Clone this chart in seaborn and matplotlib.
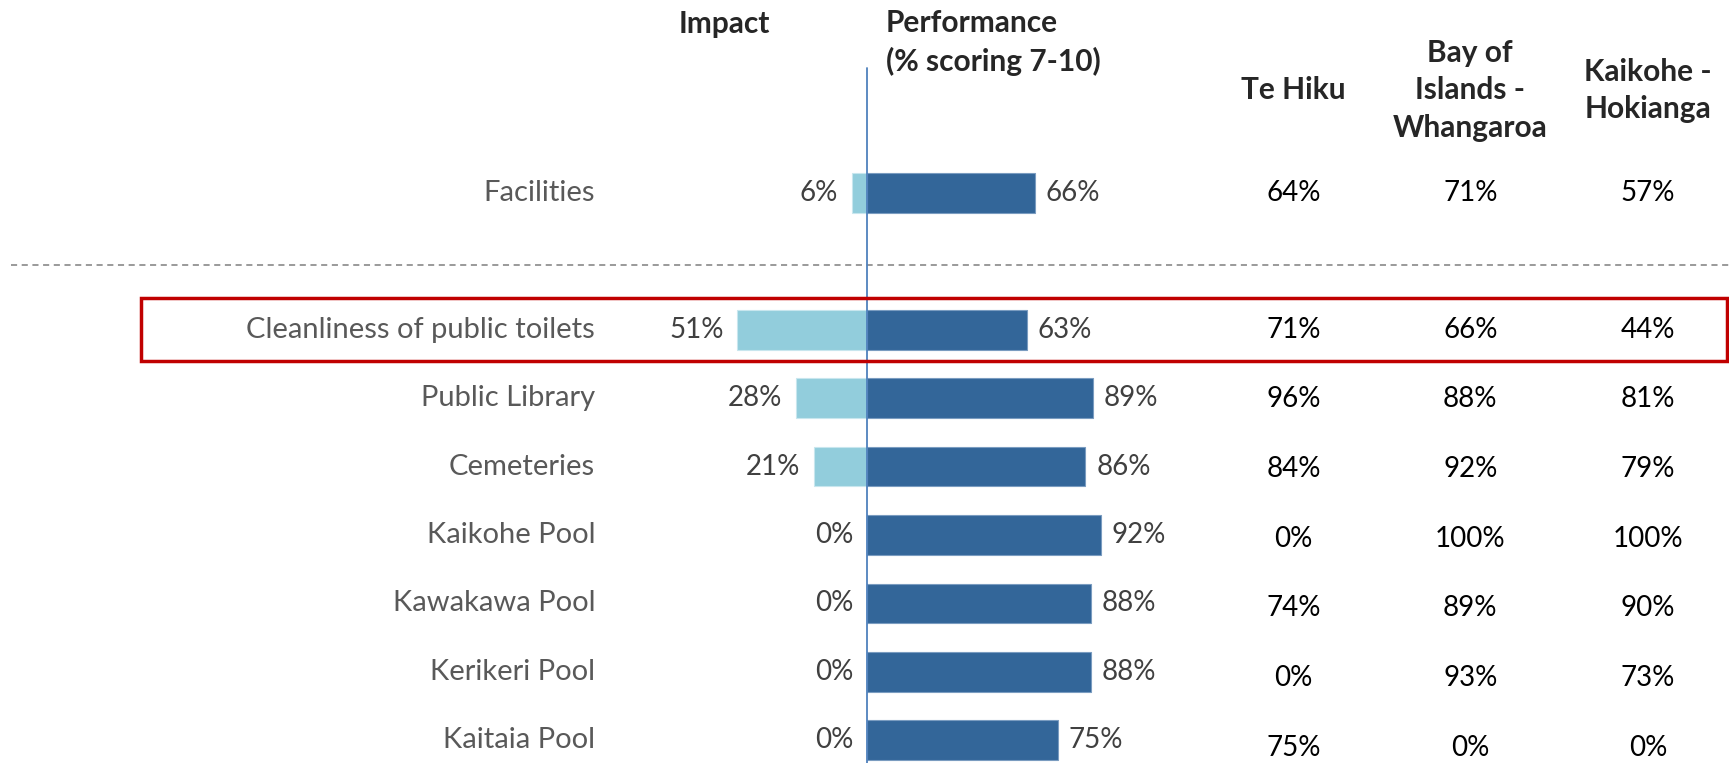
import numpy as np
import pandas as pd
import seaborn as sns
import matplotlib.pyplot as plt
from matplotlib.patches import Rectangle

# Data
categories = ["Facilities", "Cleanliness of public toilets", "Public Library", "Cemeteries",
              "Kaikohe Pool", "Kawakawa Pool", "Kerikeri Pool", "Kaitaia Pool"]
impact = [6, 51, 28, 21, 0, 0, 0, 0]
performance = [66, 63, 89, 86, 92, 88, 88, 75]
te_hiku = [64, 71, 96, 84, 0, 74, 0, 75]
bay_of_islands = [71, 66, 88, 92, 100, 89, 93, 0]
kaikohe_hokianga = [57, 44, 81, 79, 100, 90, 73, 0]
region_headers = ["Te Hiku", "Bay of\nIslands -\nWhangaroa", "Kaikohe -\nHokianga"]
highlight = "Cleanliness of public toilets"

IMPACT_COLOR = "#92CDDC"
PERF_COLOR = "#336699"
LABEL_COLOR = "#595959"
VALUE_COLOR = "#404040"
HEADER_COLOR = "#262626"

sns.set_style("white")
plt.rcParams["font.family"] = ["Lato", "DejaVu Sans"]

df = pd.DataFrame({
    "category": categories,
    "impact_neg": [-v for v in impact],
    "performance": performance,
})
# blank slot after the summary row for the dashed separator
order = [categories[0], " "] + categories[1:]
pos = {c: i for i, c in enumerate(order)}

# pixel geometry of the original slide
W, H = 1729, 763
X0_PX, PX_PER_UNIT = 867, 2.54
ROW0_PX, ROW_PX = 193, 68.4

fig = plt.figure(figsize=(W / 100, H / 100), dpi=100)
ax = fig.add_axes([0, 0, 1, 1])

sns.barplot(data=df, x="impact_neg", y="category", order=order, orient="h",
            color=IMPACT_COLOR, width=0.58, edgecolor="#c8e6ee", linewidth=0.8,
            saturation=1, ax=ax)
sns.barplot(data=df, x="performance", y="category", order=order, orient="h",
            color=PERF_COLOR, width=0.58, edgecolor="#7a9cc0", linewidth=0.8,
            saturation=1, ax=ax)

ax.set_xlim(-X0_PX / PX_PER_UNIT, (W - X0_PX) / PX_PER_UNIT)
ax.set_ylim((H - ROW0_PX) / ROW_PX, -ROW0_PX / ROW_PX)
ax.axis("off")

fs_lab, fs_val, fs_head = 21, 20, 21.5
region_x = [168, 237.5, 307.5]
for i, c in enumerate(categories):
    y = pos[c]
    ax.text(-107, y, c, ha="right", va="center", fontsize=fs_lab, color=LABEL_COLOR)
    ax.text(-impact[i] - 5.5, y, f"{impact[i]}%", ha="right", va="center",
            fontsize=fs_val, color=VALUE_COLOR)
    ax.text(performance[i] + 4.3, y, f"{performance[i]}%", ha="left", va="center",
            fontsize=fs_val, color=VALUE_COLOR)
    # region columns drift slightly lower down the slide
    yr = y + 0.018 * max(y - 2, 0)
    for xr, vals in zip(region_x, [te_hiku, bay_of_islands, kaikohe_hokianga]):
        ax.text(xr, yr, f"{vals[i]}%", ha="center", va="center", fontsize=fs_val,
                color="black")

# headers
hy = -1.5
ax.text(-56, -2.47, "Impact", ha="center", va="center", fontsize=fs_head,
        fontweight="bold", color=HEADER_COLOR)
ax.text(7.5, -2.2, "Performance\n(% scoring 7-10)", ha="left", va="center",
        fontsize=fs_head, fontweight="bold", color=HEADER_COLOR, linespacing=1.4)
for xr, h in zip(region_x, region_headers):
    ax.text(xr, hy, h, ha="center", va="center", fontsize=fs_head, fontweight="bold",
            color=HEADER_COLOR, linespacing=1.4)

# zero line and separator
ax.plot([0, 0], [-1.83, 9], color="#4F81BD", lw=1.3, zorder=5)
ax.axhline(1.05, xmin=11 / W, xmax=1, color="#7f7f7f", lw=1.1, ls=(0, (4, 3)))

# highlight box around the focus row
hy0 = pos[highlight]
ax.add_patch(Rectangle((-286, hy0 - 0.46), 624.5, 0.92, fill=False,
                       edgecolor="#C00000", lw=2.5, zorder=6, clip_on=False))

fig.savefig("out.png", dpi=100, facecolor="white")
